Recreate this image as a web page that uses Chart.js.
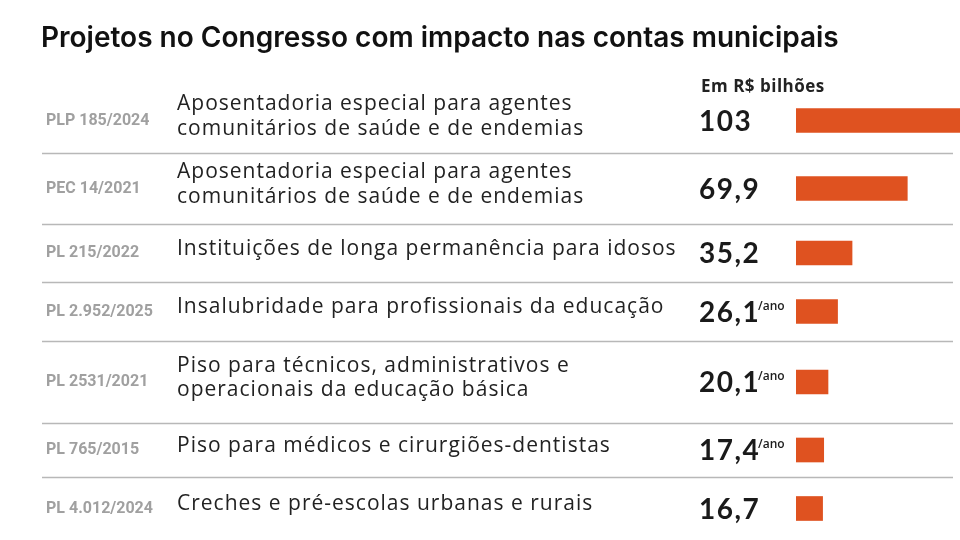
<!DOCTYPE html>
<html lang="pt-BR">
<head>
    <meta charset="UTF-8">
    <title>Projetos no Congresso com impacto nas contas municipais</title>
    <script src="https://cdn.jsdelivr.net/npm/chart.js@4.4.1/dist/chart.umd.min.js"></script>
    <style>
        html, body {
            margin: 0;
            padding: 0;
            background: #ffffff;
        }
        .wrap {
            position: relative;
            width: 960px;
            height: 540px;
        }
    </style>
</head>
<body>
    <div class="wrap">
        <canvas id="chart" width="960" height="540"></canvas>
    </div>

    <script>
        // data
        const codes = ['PLP 185/2024', 'PEC 14/2021', 'PL 215/2022', 'PL 2.952/2025', 'PL 2531/2021', 'PL 765/2015', 'PL 4.012/2024'];
        const descriptions = [
            ['Aposentadoria especial para agentes', 'comunitários de saúde e de endemias'],
            ['Aposentadoria especial para agentes', 'comunitários de saúde e de endemias'],
            ['Instituições de longa permanência para idosos'],
            ['Insalubridade para profissionais da educação'],
            ['Piso para técnicos, administrativos e', 'operacionais da educação básica'],
            ['Piso para médicos e cirurgiões-dentistas'],
            ['Creches e pré-escolas urbanas e rurais']
        ];
        const values = [103, 69.9, 35.2, 26.1, 20.1, 17.4, 16.7];
        const valueLabels = ['103', '69,9', '35,2', '26,1', '20,1', '17,4', '16,7'];
        const perYear = [false, false, false, true, true, true, false];
        const title = 'Projetos no Congresso com impacto nas contas municipais';
        const unitLabel = 'Em R$ bilhões';

        // layout (row heights in px, rows are not evenly spaced)
        const rowHeights = [65, 71, 58, 59, 82, 54, 63];
        const totalHeight = rowHeights.reduce((a, b) => a + b, 0);
        const rowTops = [];
        rowHeights.reduce((acc, h) => { rowTops.push(acc); return acc + h; }, 0);
        const rowCenters = rowTops.map((t, i) => t + rowHeights[i] / 2);

        const barColor = '#df5220';

        const textPlugin = {
            id: 'textPlugin',
            beforeDatasetsDraw(chart) {
                const ctx = chart.ctx;
                const y = chart.scales.y;
                ctx.save();
                ctx.strokeStyle = '#b8b8b8';
                ctx.lineWidth = 1.5;
                for (let i = 1; i < rowTops.length; i++) {
                    const py = Math.round(y.getPixelForValue(rowTops[i])) + 0.5;
                    ctx.beginPath();
                    ctx.moveTo(42, py);
                    ctx.lineTo(953, py);
                    ctx.stroke();
                }
                ctx.restore();
            },
            afterDatasetsDraw(chart) {
                const ctx = chart.ctx;
                const y = chart.scales.y;
                ctx.save();
                ctx.textAlign = 'left';

                // title
                ctx.fillStyle = '#111111';
                ctx.font = '600 28px Inter';
                ctx.textBaseline = 'alphabetic';
                ctx.fillText(title, 41, 47);

                // unit
                ctx.font = '700 17px "Open Sans"';
                ctx.letterSpacing = '0.5px';
                ctx.fillStyle = '#222222';
                ctx.textBaseline = 'middle';
                ctx.fillText(unitLabel, 701, 87);

                codes.forEach((code, i) => {
                    const cy = y.getPixelForValue(rowCenters[i]);

                    ctx.font = 'bold 16px Roboto';
                    ctx.letterSpacing = '0px';
                    ctx.fillStyle = '#a0a0a0';
                    ctx.textBaseline = 'middle';
                    ctx.fillText(code, 46, cy);

                    ctx.font = '21px "Open Sans"';
                    ctx.letterSpacing = '1px';
                    ctx.fillStyle = '#222222';
                    const lines = descriptions[i];
                    const lh = 24.5;
                    const startY = cy - 4 - (lines.length - 1) * lh / 2;
                    lines.forEach((line, j) => {
                        ctx.fillText(line, 177, startY + j * lh);
                    });

                    ctx.font = 'bold 28px Lato';
                    ctx.letterSpacing = '1.5px';
                    ctx.fillStyle = '#1a1a1a';
                    ctx.fillText(valueLabels[i], 699, cy + 1);

                    if (perYear[i]) {
                        ctx.font = '600 12px "Open Sans"';
                        ctx.letterSpacing = '0px';
                        ctx.fillText('/ano', 758, cy - 5);
                    }
                });
                ctx.restore();
            }
        };

        new Chart(document.getElementById('chart'), {
            type: 'bar',
            data: {
                datasets: [{
                    data: values.map((v, i) => ({ x: v, y: rowCenters[i] })),
                    backgroundColor: barColor,
                    barThickness: 24
                }]
            },
            options: {
                indexAxis: 'y',
                responsive: false,
                animation: false,
                layout: {
                    padding: { left: 796, top: 88, right: 0, bottom: 0 }
                },
                scales: {
                    x: { type: 'linear', min: 0, max: 103, display: false },
                    y: { type: 'linear', min: 0, max: totalHeight, reverse: true, offset: false, display: false }
                },
                plugins: {
                    legend: { display: false },
                    tooltip: { enabled: false }
                }
            },
            plugins: [textPlugin]
        });
    </script>
</body>
</html>
